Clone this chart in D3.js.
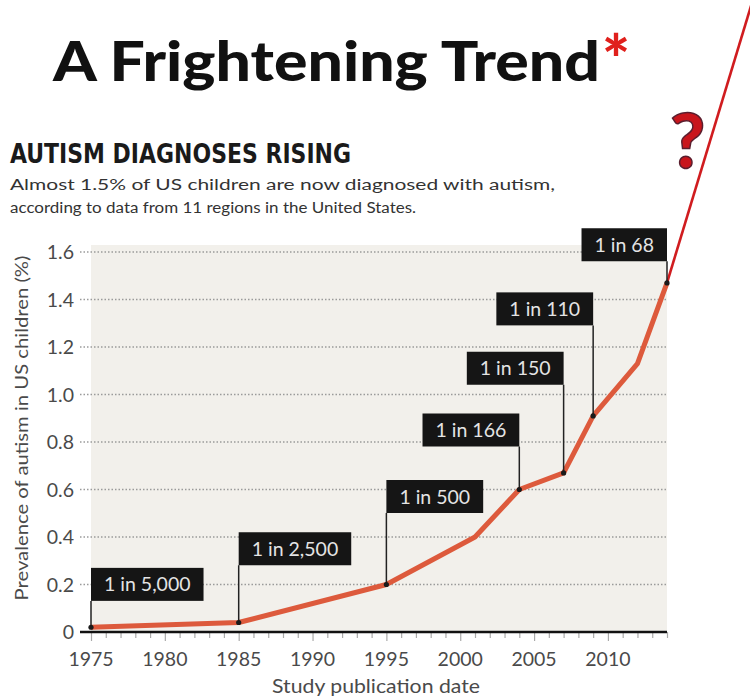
<!DOCTYPE html>
<html>
<head>
<meta charset="utf-8">
<title>A Frightening Trend</title>
<script src="https://d3js.org/d3.v7.min.js"></script>
<style>
  html, body { margin: 0; background: #fff; }
  svg { display: block; }
  .tick-label { font-family: Lato, "Open Sans", sans-serif; font-size: 19.5px; fill: #4a4a4a; }
  .grid { stroke: #9a9a9a; stroke-width: 1.3; stroke-dasharray: 1.5 2; }
</style>
</head>
<body>
<div id="chart"></div>
<script>
// study years and prevalence (% of US children)
var years      = [1975, 1985, 1995, 2001, 2004, 2007, 2009, 2012, 2014];
var prevalence = [0.02, 0.04, 0.20, 0.40, 0.60, 0.67, 0.91, 1.13, 1.47];
var labels     = ["1 in 5,000", "1 in 2,500", "1 in 500", null, "1 in 166", "1 in 150", "1 in 110", null, "1 in 68"];

// the red "trend" drawn past the last study
var trendYears  = [2014, 2020];
var trendValues = [1.47, 2.70];

var yTicks = [0, 0.2, 0.4, 0.6, 0.8, 1.0, 1.2, 1.4, 1.6];
var xTicks = [1975, 1980, 1985, 1990, 1995, 2000, 2005, 2010];

var W = 750, H = 700;
var svg = d3.select("#chart").append("svg").attr("width", W).attr("height", H);

var x = d3.scaleLinear().domain([1975, 2014]).range([91, 667]);
var y = d3.scaleLinear().domain([0, 1.6]).range([632, 252]);

// headings
var title = svg.append("text")
  .attr("x", 53).attr("y", 81)
  .style("font-family", "Lato, 'Open Sans', sans-serif")
  .style("font-weight", 900).style("font-size", "55px").style("fill", "#111");
title.append("tspan").text("A Frightening Trend").attr("textLength", 547).attr("lengthAdjust", "spacingAndGlyphs");
title.append("tspan").text("*").style("fill", "#e0201c").style("font-size", "66px").attr("dx", 2).attr("dy", 3);

svg.append("text").attr("x", 10).attr("y", 163)
  .text("AUTISM DIAGNOSES RISING")
  .attr("textLength", 341).attr("lengthAdjust", "spacingAndGlyphs")
  .style("font-family", "'Liberation Sans Narrow', 'DejaVu Sans Condensed', sans-serif")
  .style("font-weight", "bold").style("font-size", "27px").style("fill", "#1a1a1a");

var sub = svg.append("g").style("font-family", "Lato, 'Open Sans', sans-serif")
  .style("font-size", "15.5px").style("fill", "#333");
sub.append("text").attr("x", 10).attr("y", 190)
  .text("Almost 1.5% of US children are now diagnosed with autism,")
  .attr("textLength", 545).attr("lengthAdjust", "spacingAndGlyphs");
sub.append("text").attr("x", 10).attr("y", 213)
  .text("according to data from 11 regions in the United States.")
  .attr("textLength", 406).attr("lengthAdjust", "spacingAndGlyphs");

// plot background
svg.append("rect")
  .attr("x", x(1975)).attr("y", y(1.6) - 7)
  .attr("width", x(2014) - x(1975)).attr("height", y(0) - y(1.6) + 7)
  .attr("fill", "#f2f0eb");

// dotted gridlines
svg.append("g").selectAll("line").data(yTicks.filter(function(d){ return d > 0; }))
  .join("line").attr("class", "grid")
  .attr("x1", 80).attr("x2", x(2014))
  .attr("y1", function(d){ return y(d); }).attr("y2", function(d){ return y(d); });

// y axis labels
svg.append("g").selectAll("text").data(yTicks).join("text")
  .attr("class", "tick-label")
  .attr("x", 74).attr("y", function(d){ return y(d); })
  .attr("dy", "0.36em").attr("text-anchor", "end")
  .text(function(d){ return d === 0 ? "0" : d3.format(".1f")(d); });

svg.append("text")
  .attr("transform", "translate(28,428) rotate(-90)")
  .attr("text-anchor", "middle")
  .attr("textLength", 345).attr("lengthAdjust", "spacingAndGlyphs")
  .style("font-family", "Lato, 'Open Sans', sans-serif").style("font-size", "18px").style("fill", "#4a4a4a")
  .text("Prevalence of autism in US children (%)");

// x axis
var xAxis = d3.axisBottom(x)
  .tickValues(d3.range(1975, 2015, 1))
  .tickSize(7).tickFormat("");
var gx = svg.append("g").attr("transform", "translate(0," + y(0) + ")").call(xAxis);
gx.select(".domain").remove();
gx.selectAll(".tick line").attr("stroke", "#aaa").attr("stroke-width", 1.2)
  .attr("y2", function(d){ return d % 5 === 0 ? 9 : 6; });
svg.append("line").attr("x1", 80).attr("x2", x(2014))
  .attr("y1", y(0)).attr("y2", y(0))
  .attr("stroke", "#111").attr("stroke-width", 2.5);

svg.append("g").selectAll("text").data(xTicks).join("text")
  .attr("class", "tick-label")
  .attr("x", function(d){ return x(d); }).attr("y", 666)
  .attr("text-anchor", "middle").text(function(d){ return d; });

svg.append("text").attr("x", 376).attr("y", 693).attr("text-anchor", "middle")
  .attr("textLength", 208).attr("lengthAdjust", "spacingAndGlyphs")
  .style("font-family", "Lato, 'Open Sans', sans-serif").style("font-size", "19px").style("fill", "#4a4a4a")
  .text("Study publication date");

// red extrapolated trend
svg.append("path")
  .datum(d3.zip(trendYears, trendValues))
  .attr("d", d3.line().x(function(d){ return x(d[0]); }).y(function(d){ return y(d[1]); }))
  .attr("fill", "none").attr("stroke", "#d01c1f").attr("stroke-width", 2.6);

// main line
svg.append("path")
  .datum(d3.zip(years, prevalence))
  .attr("d", d3.line().x(function(d){ return x(d[0]); }).y(function(d){ return y(d[1]); }))
  .attr("fill", "none").attr("stroke", "#dd5a3c").attr("stroke-width", 5)
  .attr("stroke-linejoin", "round");

// label boxes: left-anchored for the early studies, right-anchored later
var boxTop = { "1 in 5,000": 0.27, "1 in 2,500": 0.42, "1 in 500": 0.64, "1 in 166": 0.92,
               "1 in 150": 1.18, "1 in 110": 1.43, "1 in 68": 1.7 };
var boxH = 33, pad = 13;

var pts = years.map(function(yr, i){ return { year: yr, v: prevalence[i], label: labels[i] }; })
  .filter(function(d){ return d.label; });

var lg = svg.append("g");
pts.forEach(function(d){
  var px = x(d.year), py = y(d.v), top = y(boxTop[d.label]);
  var g = lg.append("g");
  g.append("line").attr("x1", px).attr("x2", px).attr("y1", top + boxH).attr("y2", py)
    .attr("stroke", "#222").attr("stroke-width", 1.5);
  var rect = g.append("rect").attr("y", top).attr("height", boxH).attr("fill", "#151515");
  var t = g.append("text").attr("y", top + boxH / 2).attr("dy", "0.36em")
    .style("font-family", "Lato, 'Open Sans', sans-serif").style("font-size", "19.5px")
    .style("fill", "#e4e4e4").text(d.label);
  var w = t.node().getComputedTextLength() + 2 * pad;
  var left = d.year < 2000 ? px : px - w;
  rect.attr("x", left).attr("width", w);
  t.attr("x", left + pad);
  g.append("circle").attr("cx", px).attr("cy", py).attr("r", 2.6).attr("fill", "#1a1a1a");
});

// question mark
svg.append("text").attr("x", 670).attr("y", 168)
  .style("font-family", "Lato, 'Open Sans', sans-serif").style("font-weight", 900)
  .style("font-size", "76px").style("fill", "#c8151c")
  .style("stroke", "#5a1e2e").style("stroke-width", 1.5)
  .text("?");
</script>
</body>
</html>
